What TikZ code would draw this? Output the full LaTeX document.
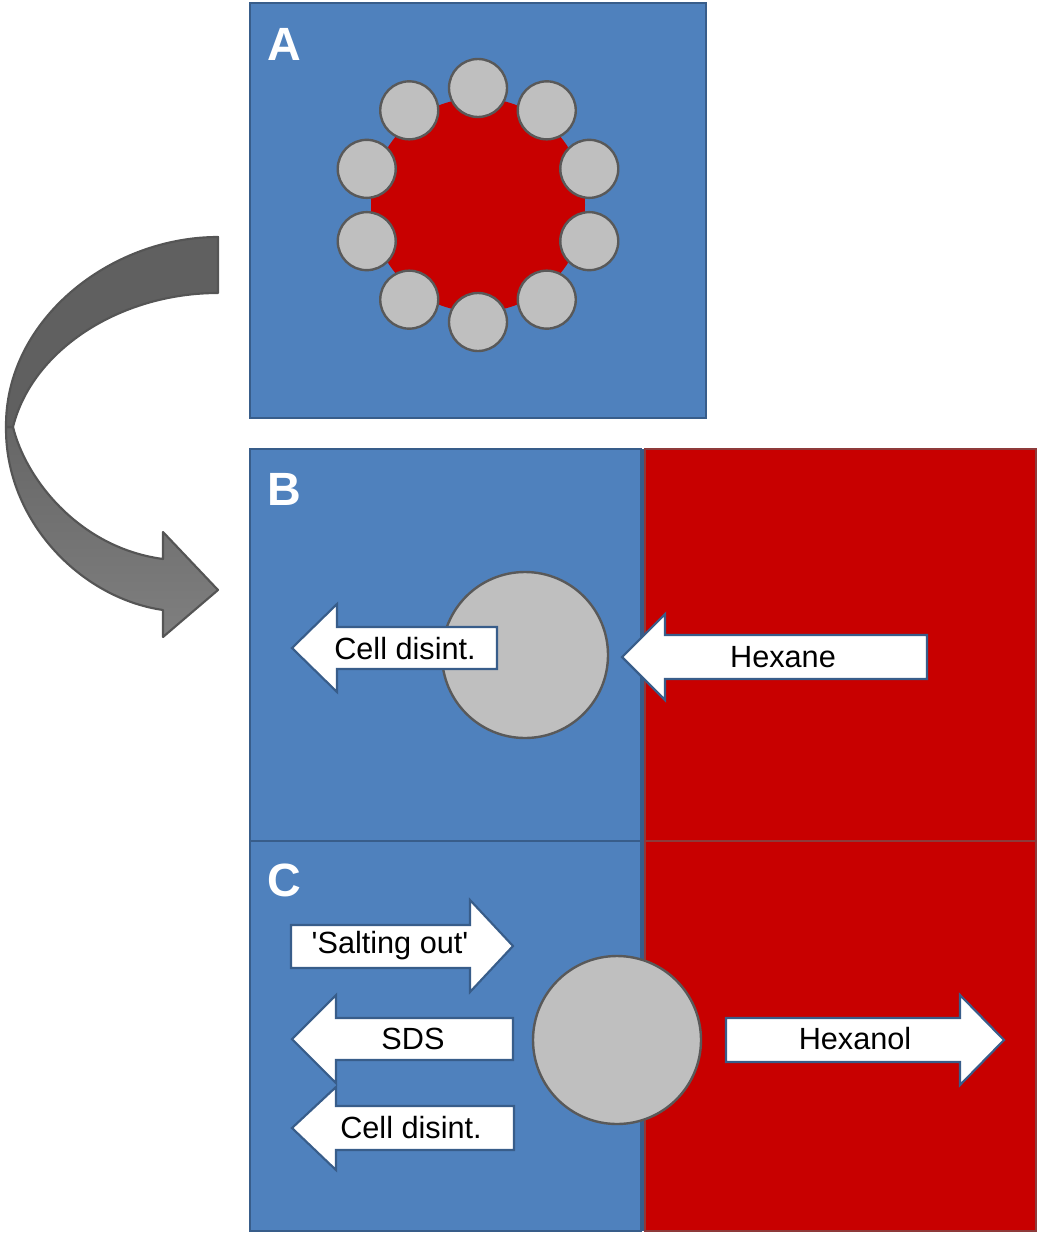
\documentclass[tikz,border=0pt]{standalone}
\usepackage{fontspec}
\setmainfont{Liberation Sans}[Ligatures=TeXOff]
\definecolor{pblue}{HTML}{4F81BD}
\definecolor{pblueb}{HTML}{385D8A}
\definecolor{pred}{HTML}{C80000}
\definecolor{predb}{HTML}{8E3A3A}
\definecolor{cgray}{HTML}{BFBFBF}
\definecolor{cgrayb}{HTML}{595959}
\definecolor{adark}{HTML}{606060}
\definecolor{alight}{HTML}{7F7F7F}
\definecolor{aline}{HTML}{555555}
\tikzset{
  bluepanel/.style={fill=pblue,draw=pblueb,line width=1.6pt},
  redpanel/.style={fill=pred,draw=predb,line width=1.6pt},
  cell/.style={circle,fill=cgray,draw=cgrayb,line width=1.8pt,inner sep=0pt},
  blockarrow/.style={fill=white,draw=pblueb,line width=1.6pt,line join=miter},
  arrowtext/.style={inner sep=0pt,font=\fontsize{23}{27}\selectfont},
  panellabel/.style={text=white,inner sep=0pt,font=\fontsize{35}{40}\selectfont\bfseries},
  curvedpart/.style={draw=aline,line width=1.6pt,line join=round}
}
\begin{document}
\begin{tikzpicture}[x=0.75pt,y=-0.75pt]
\useasboundingbox (0,0) rectangle (1038,1234);

% ---------- Panel A ----------
\draw[bluepanel] (250,3) rectangle (706,418);
\node[panellabel] (labA) at (284,44) {A};
\fill[pred] (478,205) circle[radius=107];
\foreach \i in {0,...,9}{
  \node[cell,minimum size=58*0.75pt] (a\i) at ({478+117*cos(90+36*\i)},{205-117*sin(90+36*\i)}) {};
}

% ---------- Panels B and C ----------
\draw[bluepanel] (250,449) rectangle (641,841);
\draw[redpanel] (645,449) rectangle (1036,841);
\draw[bluepanel] (250,841) rectangle (641,1231);
\draw[redpanel] (645,841) rectangle (1036,1231);
\draw[pblueb,line width=1.6pt] (643,449) -- (643,1231);
\node[panellabel] (labB) at (284,489) {B};
\node[panellabel] (labC) at (284,880) {C};

% ---------- Panel B content ----------
\node[cell,minimum size=166*0.75pt] (cellB) at (525,655) {};
% Cell disint. (left)
\draw[blockarrow] (292,648) -- (337,604) -- (337,627) -- (497,627) -- (497,669) -- (337,669) -- (337,692) -- cycle;
\node[arrowtext] (tB1) at (405,649) {Cell disint.};
% Hexane (left)
\draw[blockarrow] (622,657) -- (665,614) -- (665,635) -- (927,635) -- (927,679) -- (665,679) -- (665,700) -- cycle;
\node[arrowtext] (tB2) at (783,657) {Hexane};

% ---------- Panel C content ----------
\node[cell,minimum size=168*0.75pt] (cellC) at (617,1040) {};
% 'Salting out' (right)
\draw[blockarrow] (513,946) -- (470,900) -- (470,925) -- (291,925) -- (291,968) -- (470,968) -- (470,992) -- cycle;
\node[arrowtext] (tC1) at (390,946) {'Salting out'};
% SDS (left)
\draw[blockarrow] (292,1039) -- (336,995) -- (336,1018) -- (513,1018) -- (513,1060) -- (336,1060) -- (336,1083) -- cycle;
\node[arrowtext] (tC2) at (413,1039) {SDS};
% Cell disint. (left)
\draw[blockarrow] (292,1128) -- (336,1087) -- (336,1106) -- (514,1106) -- (514,1150) -- (336,1150) -- (336,1170) -- cycle;
\node[arrowtext] (tC3) at (411,1128) {Cell disint.};
% Hexanol (right)
\draw[blockarrow] (1004,1040) -- (960,995) -- (960,1018) -- (726,1018) -- (726,1062) -- (960,1062) -- (960,1085) -- cycle;
\node[arrowtext] (tC4) at (855,1039) {Hexanol};

% ---------- Curved arrow ----------
\coordinate (cA1) at (218,237);
\coordinate (cA2) at (218,293);
\coordinate (cO) at (6,427);
\coordinate (cI) at (13,427);
% lower (front) part
\draw[curvedpart,top color=adark!80!alight,bottom color=alight]
  (cO) .. controls (5,520) and (80,598) .. (163,610)
  -- (163,637) -- (218,590) -- (163,532) -- (163,559)
  .. controls (80,548) and (26,480) .. (cI) -- cycle;
% upper (back) part
\draw[curvedpart,fill=adark]
  (cA1) .. controls (110,237) and (5,320) .. (cO) -- (cI)
  .. controls (32,350) and (120,293) .. (cA2) -- cycle;
\end{tikzpicture}
\end{document}
